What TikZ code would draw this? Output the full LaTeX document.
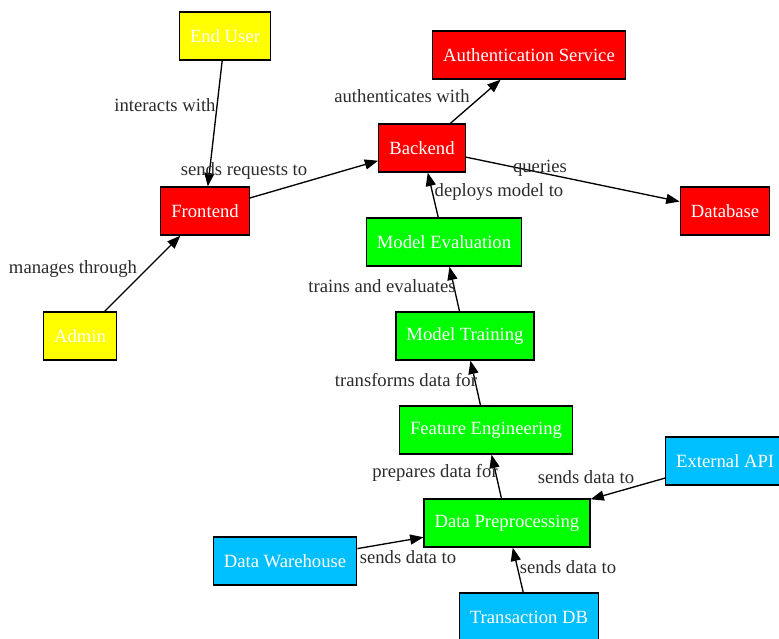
\documentclass[tikz,border=0pt]{standalone}
\usepackage{fontspec}
\setmainfont{Liberation Serif}
\usetikzlibrary{arrows.meta}
\definecolor{cred}{HTML}{FF0000}
\definecolor{cyel}{HTML}{FFFF00}
\definecolor{cgrn}{HTML}{00FF00}
\definecolor{cblu}{HTML}{00BFFF}
\definecolor{ltxt}{HTML}{2B2B2B}
\tikzset{
  box/.style={draw=black, line width=1pt, text=white, minimum height=36pt, minimum width=54pt,
    inner xsep=7.92pt, inner ysep=2pt, font=\fontsize{14pt}{16pt}\selectfont},
  redbox/.style={box, fill=cred},
  yelbox/.style={box, fill=cyel},
  grnbox/.style={box, fill=cgrn},
  blubox/.style={box, fill=cblu},
  lbl/.style={text=ltxt, inner sep=0pt, font=\fontsize{14pt}{16pt}\selectfont},
  conn/.style={draw=black, line width=1pt, -{Triangle[length=10pt,width=7.5pt]}}
}
\begin{document}
\begin{tikzpicture}[x={(0.75pt,0)}, y={(0,-0.75pt)}]
\useasboundingbox (0,0) rectangle (779,639);
\clip (0,0) rectangle (779,639);
\fill[white] (0,0) rectangle (779,639);
% nodes
\node[yelbox] (enduser) at (225,36) {End User};
\node[redbox] (auth) at (529,55) {Authentication Service};
\node[redbox] (backend) at (422,148) {Backend};
\node[redbox] (frontend) at (205,211) {Frontend};
\node[redbox] (database) at (725,211) {Database};
\node[grnbox] (modeleval) at (444,242) {Model Evaluation};
\node[yelbox] (admin) at (80,336) {Admin};
\node[grnbox] (modeltrain) at (465,336) {Model Training};
\node[grnbox] (feateng) at (486,430) {Feature Engineering};
\node[blubox, anchor=west] (extapi) at (665,461) {External API};
\node[grnbox] (dataprep) at (507,523) {Data Preprocessing};
\node[blubox] (warehouse) at (285,561) {Data Warehouse};
\node[blubox] (transdb) at (529,617) {Transaction DB};
% connectors
\draw[conn] (enduser) -- (frontend);
\draw[conn] (frontend) -- (backend);
\draw[conn] (backend) -- (auth);
\draw[conn] (backend) -- (database);
\draw[conn] (modeleval) -- (backend);
\draw[conn] (admin) -- (frontend);
\draw[conn] (modeltrain) -- (modeleval);
\draw[conn] (feateng) -- (modeltrain);
\draw[conn] (dataprep) -- (feateng);
\draw[conn] (extapi) -- (dataprep);
\draw[conn] (warehouse) -- (dataprep);
\draw[conn] (transdb) -- (dataprep);
% labels
\node[lbl] (l1) at (165,105) {interacts with};
\node[lbl] (l2) at (244,171) {sends requests to};
\node[lbl] (l3) at (402,96) {authenticates with};
\node[lbl] (l4) at (540,168) {queries};
\node[lbl] (l5) at (499,192) {deploys model to};
\node[lbl] (l6) at (73,269) {manages through};
\node[lbl] (l7) at (382,286) {trains and evaluates};
\node[lbl] (l8) at (406,380) {transforms data for};
\node[lbl] (l9) at (435,473) {prepares data for};
\node[lbl] (l10) at (586,477) {sends data to};
\node[lbl] (l11) at (408,557) {sends data to};
\node[lbl] (l12) at (568,567) {sends data to};
\end{tikzpicture}
\end{document}
